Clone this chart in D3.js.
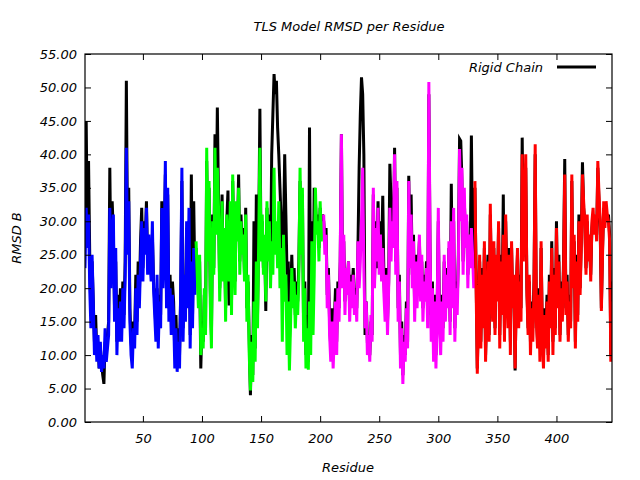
<!DOCTYPE html>
<html><head><meta charset="utf-8">
<script src="https://cdn.jsdelivr.net/npm/d3@7"></script>
<style>body{margin:0;background:#fff}svg{display:block}text{font-family:"DejaVu Sans",sans-serif;font-style:italic;font-size:13px;fill:#000}</style>
</head><body>
<svg id="c" width="640" height="480"></svg>
<script>
const chartTitle = "TLS Model RMSD per Residue";
const xLabel = "Residue";
const yLabel = "RMSD B";
const legendLabels = ["Rigid Chain"];
const xTicks = [50,100,150,200,250,300,350,400];
const yTicks = [0,5,10,15,20,25,30,35,40,45,50,55];
const xDomain = [1, 447];
const yDomain = [0, 55];

// Rigid chain RMSD, residues 1..447
const rigidChain = [
30,45,28,39,25,16,24,18,12,16,
10,12,8,11,9,7,5.7,12,10,13,
15,38,22,33,28,17,24,12,19,14,
20,14,21,16,24,51,27,35,17,12,
10,15,13,22,15,24,19,27,32,23,
30,27,33,24,27,26,22,28,21,18,
14,20,13,19,16,33,22,26,37,19,
34,17,22,15,21,18,10,16,9,14,
10,19,36,14,21,17,29,18,30,13,
37,16,33,21,26,23,19,24,8,15,
12,19,14,39,26,35,20,13,31,23,
43,30,47,33,20,26,34,22,28,17,
30,34.6,17.4,32,18,36,25,21,32,28,
37,24,31,26,29,22,32,17,21,12,
4,13,7,30,11,34,16,28,46.8,25,
30,23,27,16.6,32,25,31,22,40,46,
52,49,51,44,40,35,30,24,28,40,
31,22,24,12,18,25,19,23,16,21,
18,24,36,27,34,14,21,10,16,9,
44,14,30,17,35,33,29,31,26,32,
28,31,30,27,29,19,23,15,11,17,
10,15,20,12,21,17,24,43,22,27,
18,23,21,24,17,22,19,23,18,20,
17,26,38,46,51.5,49,40,13,18,12,
12,10,15,13,34,21,30,23,33,25,
30,25,33.8,21,17,23,15,21,38.6,33,
29,27,41,24,35,17,22,10,15,7,
13,10,18,12,36.8,25,34,22,28,17,
25,19,23,27,20,24,17,22,19,24,
16,49,26,14,21,11,19,10,17,30,
16,12,19,14,24,17,23,18,26,15,
35.6,19,30,14,21,18,25,42.3,42,36,
24,33,28,30,22,27,25,42.8,26,23,
35,22,8,17,24,12,23,15,26,10,
18,25,13,31,21,17,26,14,24,19,
29,13,25,17,34,14,30,22,16,26,
12,26,18,21,7.7,20,25,16,22,17,
42.5,26,31,38,20,14,21,12,18,14,
21,40,16,12,20,11,26,14,10,17,
13,19,10,22,15,27,12,23,14,30,
18,25,13,21,16,24,39.3,17,22,13,
19,15,36,21,27,12,25,16,31,20,
27,38.8,32,30,23,30,25,27,22,29,
31,29,30,28,38,33,29,17,26,32,
30,32,30,31,28,10,21
];

// TLS segments: first residue of each, and values
const segmentStarts = [1, 95, 203, 331];
const segmentColors = ["#0000ff", "#00ff00", "#ff00ff", "#ff0000"];
const tlsSegment1 = [
23,32,26,31,20,14,25,18,10,14,
9,13,8,12,7.5,10,8,14,9,11,
13,32,20,28,31,15,26,10,17,12,
18,12,20,14,22,41,25,33,15,10,
8,14,11,20,13,22,17,24,30,21,
29,25,32,22,28,24,21,30,20,16,
12,22,11,18,14,32,20,25,39,17,
35,15,20,13,19,16,8,14,7.5,12,
8,20,38,12,22,15,30,17,32,11,
24,14,26,19
];
const tlsSegment2 = [
27,22,17,25,10,14,
11,20,13,41,24,36,18,11,30,22,
41,28,38,32,18,25,33,21,29,15,
31,26,21,33,16,37,24,19,33,27,
35,22,30,25,28,21,31,15,22,10,
4.7,12,6,18,9,24,14,27,41,24,
31,22,28,18,33,24,30,20,27,22,
38,25,30,23,33,20,26,12,28,18,
22,10,18,7.7,15,23,17,21,14,19,
16,22,38,25,35,12,20,8,14,7.8,
18,10,27,13,22,35,28,30,24,33,
27,30
];
const tlsSegment3 = [
31,25,28,17,22,13,9,15,
8,13,18,10,20,15,25,43,20,28,
16,23,19,24,15,21,17,22,16,19,
15,27,20,24,30,38,23,14,18,10,
13,9,16,12,35,20,29,24,32,22,
28,21,26,19,15,22,13,20,32,24,
30,26,40,22,36,15,21,8,14,5.7,
12,9,17,11,36,23,31,20,27,15,
24,17,22,28,18,25,15,21,18,23,
14,50.8,27,12,20,9,18,8,16,32,
14,10,18,12,25,15,22,17,27,13,
30,17,32,12,20,16,24,40.8,30,38,
22,35,26,31,20,28,23,29,25,20
];
const tlsSegment4 = [
36,20,7.2,16,25,11,22,14,27,9,
17,24,12,32.6,20,15,27,13,25,18,
30,11,24,16,28,12,31,20,14,25,
10,27,17,22,8,19,26,14,21,15,
40,24,32,40,19,13,22,10,17,12,
20,41.5,15,11,19,9,27,13,8,16,
11,18,9,21,14,26,10,22,13,29,
17,24,12,20,15,23,37,16,21,12,
18,14,37,20,28,11,24,15,30,19,
26,37,33,29,22,31,24,28,21,30,
32,28,31,27,39,34,30,16.6,25,33,
29,33,31,30,27,9,18
];
const tlsSegments = [tlsSegment1, tlsSegment2, tlsSegment3, tlsSegment4];

const svg = d3.select("#c");
const m = {l:85, r:612, t:54, b:422};
const x = d3.scaleLinear().domain(xDomain).range([m.l, m.r]);
const y = d3.scaleLinear().domain(yDomain).range([m.b, m.t]);

svg.append("defs").append("clipPath").attr("id","clip")
  .append("rect").attr("x",m.l).attr("y",m.t).attr("width",m.r-m.l).attr("height",m.b-m.t);

const line = d3.line().x(d=>x(d[0])).y(d=>y(d[1]));
const plot = svg.append("g").attr("clip-path","url(#clip)");

plot.append("path").datum(rigidChain.map((v,i)=>[i+1,v]))
  .attr("d", line).attr("fill","none").attr("stroke","#000").attr("stroke-width",3).attr("stroke-linejoin","miter");

tlsSegments.forEach((seg, k) => {
  plot.append("path").datum(seg.map((v,i)=>[segmentStarts[k]+i, v]))
    .attr("d", line).attr("fill","none").attr("stroke",segmentColors[k]).attr("stroke-width",3);
});

// axes (ticks inward, mirrored)
const tl = 6;
const axL = svg.append("g").attr("transform",`translate(${m.l},0)`)
  .call(d3.axisLeft(y).tickValues(yTicks).tickSize(-tl).tickPadding(8).tickFormat(d3.format(".2f")));
const axR = svg.append("g").attr("transform",`translate(${m.r},0)`)
  .call(d3.axisRight(y).tickValues(yTicks).tickSize(-tl).tickFormat(""));
const axB = svg.append("g").attr("transform",`translate(0,${m.b})`)
  .call(d3.axisBottom(x).tickValues(xTicks).tickSize(-tl).tickPadding(12));
const axT = svg.append("g").attr("transform",`translate(0,${m.t})`)
  .call(d3.axisTop(x).tickValues(xTicks).tickSize(-tl).tickFormat(""));
[axL,axR,axB,axT].forEach(a=>{
  a.select(".domain").remove();
  a.selectAll("line").attr("stroke","#000");
  a.selectAll("text").attr("font-family","DejaVu Sans").attr("font-style","italic").attr("font-size",12.5).attr("fill","#000");
});
svg.append("rect").attr("x",m.l).attr("y",m.t).attr("width",m.r-m.l).attr("height",m.b-m.t)
  .attr("fill","none").attr("stroke","#000").attr("stroke-width",1.2);

svg.append("text").attr("x",349).attr("y",31).attr("text-anchor","middle").text(chartTitle);
svg.append("text").attr("x",348).attr("y",472).attr("text-anchor","middle").text(xLabel);
svg.append("text").attr("transform","translate(21,238) rotate(-90)").attr("text-anchor","middle").text(yLabel);

// legend
svg.append("text").attr("x",543).attr("y",72).attr("text-anchor","end").text(legendLabels[0]);
svg.append("line").attr("x1",557).attr("x2",596).attr("y1",67).attr("y2",67).attr("stroke","#000").attr("stroke-width",3);
</script>
</body></html>
